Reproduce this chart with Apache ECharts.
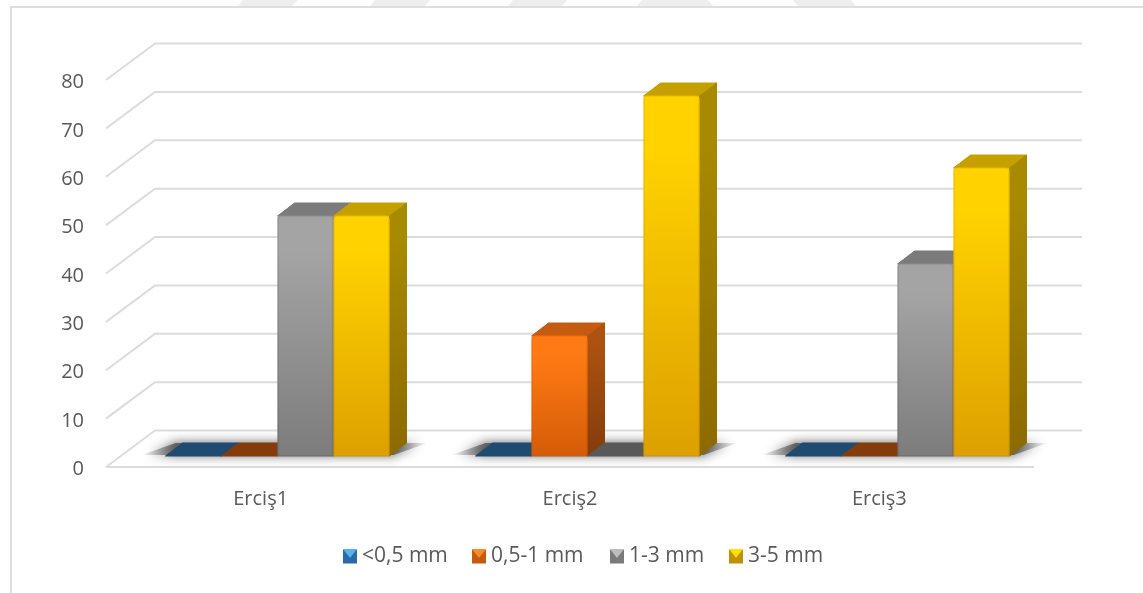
<!DOCTYPE html>
<html>
<head>
<meta charset="utf-8">
<style>html,body{margin:0;padding:0;background:#fff}#c{width:1143px;height:593px}</style>
<script src="https://cdn.jsdelivr.net/npm/echarts@6/dist/echarts.min.js"></script>
</head>
<body>
<div id="c"></div>
<script>
const categories = ['Erciş1', 'Erciş2', 'Erciş3'];
const seriesNames = ['<0,5 mm', '0,5-1 mm', '1-3 mm', '3-5 mm'];
const under05 = [0, 0, 0];
const from05to1 = [0, 25, 0];
const from1to3 = [50, 0, 40];
const from3to5 = [50, 75, 60];
const yTicks = [0, 10, 20, 30, 40, 50, 60, 70, 80];

const grad = (a, b) => ({type:'linear',x:0,y:0,x2:0,y2:1,colorStops:[{offset:0,color:a},{offset:0.15,color:a},{offset:1,color:b}]});
const palette = [
  {front:grad('#2E75B6','#1F5C94'), edge:grad('#2E75B6','#1F5C94'), side:grad('#1F4E79','#1F4E79'), top:'#1F4A72', legend:'#2A6AA6', tri:'#56B2EA'},
  {front:grad('#FF7A14','#D45C08'), edge:grad('#EE7010','#C85608'), side:grad('#AD5210','#843C0C'), top:'#C55A11', legend:'#C55A11', tri:'#FF8A2E'},
  {front:grad('#A4A4A4','#7C7C7C'), edge:grad('#8C8C8C','#6A6A6A'), side:grad('#7F7F7F','#595959'), top:'#7B7B7B', legend:'#7A7A7A', tri:'#BDBDBD'},
  {front:grad('#FFD200','#DDA000'), edge:grad('#F0BC00','#CF9600'), side:grad('#A88A00','#8C6A00'), top:'#C4A000', legend:'#BF9000', tri:'#FFE000'}
];
const flatTop = ['#1F4A72', '#843C0C', '#595959', '#7F6000'];
const DX = 17, DY = 13, BAR_RATIO = 56 / 310;
const legendLefts = [343, 472, 610, 729];
const LEGEND_TOP = 549;
const LABEL_SHIFT = 2.5;

function barRenderer(k) {
  return function (params, api) {
    const i = api.value(0), v = api.value(1);
    const base = api.coord([i, 0]), top = api.coord([i, v]);
    const w = api.size([1, 0])[0] * BAR_RATIO;
    const x = base[0] + (k - 2) * w;
    const p = palette[k];
    const kids = [{
      type:'polygon',
      shape:{points:[[x,top[1]],[x+w,top[1]],[x+w+DX,top[1]-DY],[x+DX,top[1]-DY]]},
      style:{fill:v === 0 ? flatTop[k] : p.top, stroke:v === 0 ? flatTop[k] : p.top, lineWidth:1, lineJoin:'round'}
    }];
    if (v > 0) {
      kids.push({
        type:'polygon',
        shape:{points:[[x+w,top[1]],[x+w+DX,top[1]-DY],[x+w+DX,base[1]-DY],[x+w,base[1]]]},
        style:{fill:p.side, stroke:p.side, lineWidth:1, lineJoin:'round'}
      });
      kids.push({
        type:'rect',
        shape:{x:x+0.5,y:top[1],width:w-1,height:base[1]-top[1],r:[3,3,0,0]},
        style:{fill:p.front, stroke:p.edge, lineWidth:1.2}
      });
    }
    return {type:'group',children:kids};
  };
}
const pairs = arr => arr.map((v, i) => [i, v]);
const valuesBySeries = [under05, from05to1, from1to3, from3to5];

const wallSeries = {
  type:'custom', xAxisIndex:0, yAxisIndex:0, silent:true, z:1,
  data: yTicks.map(t => [0, t]),
  renderItem(params, api) {
    const c = api.coord([0, api.value(1)]);
    const band = api.size([1, 0])[0];
    const lx = c[0] - band / 2, rx = lx + band * 3, y = c[1] - LABEL_SHIFT;
    const isFloor = api.value(1) === 0;
    const kids = [{
      type:'polyline',
      shape:{points:[[lx,y],[lx+49,y-36.5],[rx+48,y-36.5]]},
      style:{fill:'none',stroke:'#DCDCDC',lineWidth:2}
    }];
    if (isFloor) kids.push({type:'line',shape:{x1:lx,y1:y,x2:rx,y2:y},style:{stroke:'#DCDCDC',lineWidth:2}});
    return {type:'group',children:kids};
  }
};
const shadowFill = {type:'linear',x:0,y:0,x2:1,y2:0,colorStops:[
  {offset:0,color:'rgba(80,80,80,0)'},{offset:0.12,color:'rgba(80,80,80,0.8)'},
  {offset:0.88,color:'rgba(80,80,80,0.8)'},{offset:1,color:'rgba(80,80,80,0)'}]};
const shadowSeries = {
  type:'custom', xAxisIndex:1, yAxisIndex:1, silent:true, z:2,
  data: categories.map((c, i) => [i, 0]),
  renderItem(params, api) {
    const b = api.coord([api.value(0), 0]);
    return {type:'polygon',
      shape:{points:[[b[0]-136,b[1]-1],[b[0]+116,b[1]-1],[b[0]+150,b[1]-13],[b[0]-102,b[1]-13]]},
      style:{fill:shadowFill,shadowBlur:12,shadowColor:'rgba(50,50,50,1)'}};
  }
};
const barSeries = seriesNames.map((name, k) => ({
  name, type:'custom', xAxisIndex:1, yAxisIndex:1, z:3 + k,
  itemStyle:{color:palette[k].legend},
  data:pairs(valuesBySeries[k]),
  renderItem:barRenderer(k)
}));

const stripes = [[238,292,243,298],[370,425,375,430],[508,562,513,567],[637,713,642,708],[798,856,793,851]];
const chart = echarts.init(document.getElementById('c'), null, {renderer:'canvas'});
chart.setOption({
  animation:false,
  backgroundColor:'#fff',
  textStyle:{fontFamily:'"Open Sans"'},
  grid:[
    {left:106, width:928, top:80 + LABEL_SHIFT, height:387},
    {left:122.5, width:930, top:72, height:384}
  ],
  xAxis:[
    {gridIndex:0,type:'category',data:categories,axisLine:{show:false},axisTick:{show:false},
     axisLabel:{color:'#595959',fontSize:20,margin:20,fontFamily:'"Open Sans"'}},
    {gridIndex:1,type:'category',data:categories,show:false}
  ],
  yAxis:[
    {gridIndex:0,type:'value',min:0,max:80,interval:10,axisLine:{show:false},axisTick:{show:false},splitLine:{show:false},
     axisLabel:{color:'#595959',fontSize:20,margin:22,fontFamily:'"Open Sans"'}},
    {gridIndex:1,type:'value',min:0,max:80,interval:10,show:false,splitLine:{show:false}}
  ],
  legend:seriesNames.map((name, k) => ({
    data:[name], left:legendLefts[k], top:LEGEND_TOP - 3, padding:0, itemWidth:14, itemHeight:14, icon:'rect',
    textStyle:{color:'#595959',fontSize:21,fontFamily:'"Open Sans"'}
  })),
  tooltip:{show:false},
  series:[wallSeries, shadowSeries].concat(barSeries),
  graphic:[
    {type:'polyline',silent:true,z:0,shape:{points:[[1143,7],[11,7],[11,593]]},style:{fill:'none',stroke:'#DEDEDE',lineWidth:2}}
  ].concat(stripes.map(s => ({
    type:'polygon',silent:true,z:0,shape:{points:[[s[0],6],[s[1],6],[s[3],0],[s[2],0]]},style:{fill:'#EEEEEE'}
  }))).concat(legendLefts.map((x, k) => ({
    type:'polygon',silent:true,z:100,shape:{points:[[x,LEGEND_TOP],[x+14,LEGEND_TOP],[x+7,LEGEND_TOP+9]]},style:{fill:palette[k].tri}
  })))
});
</script>
</body>
</html>
